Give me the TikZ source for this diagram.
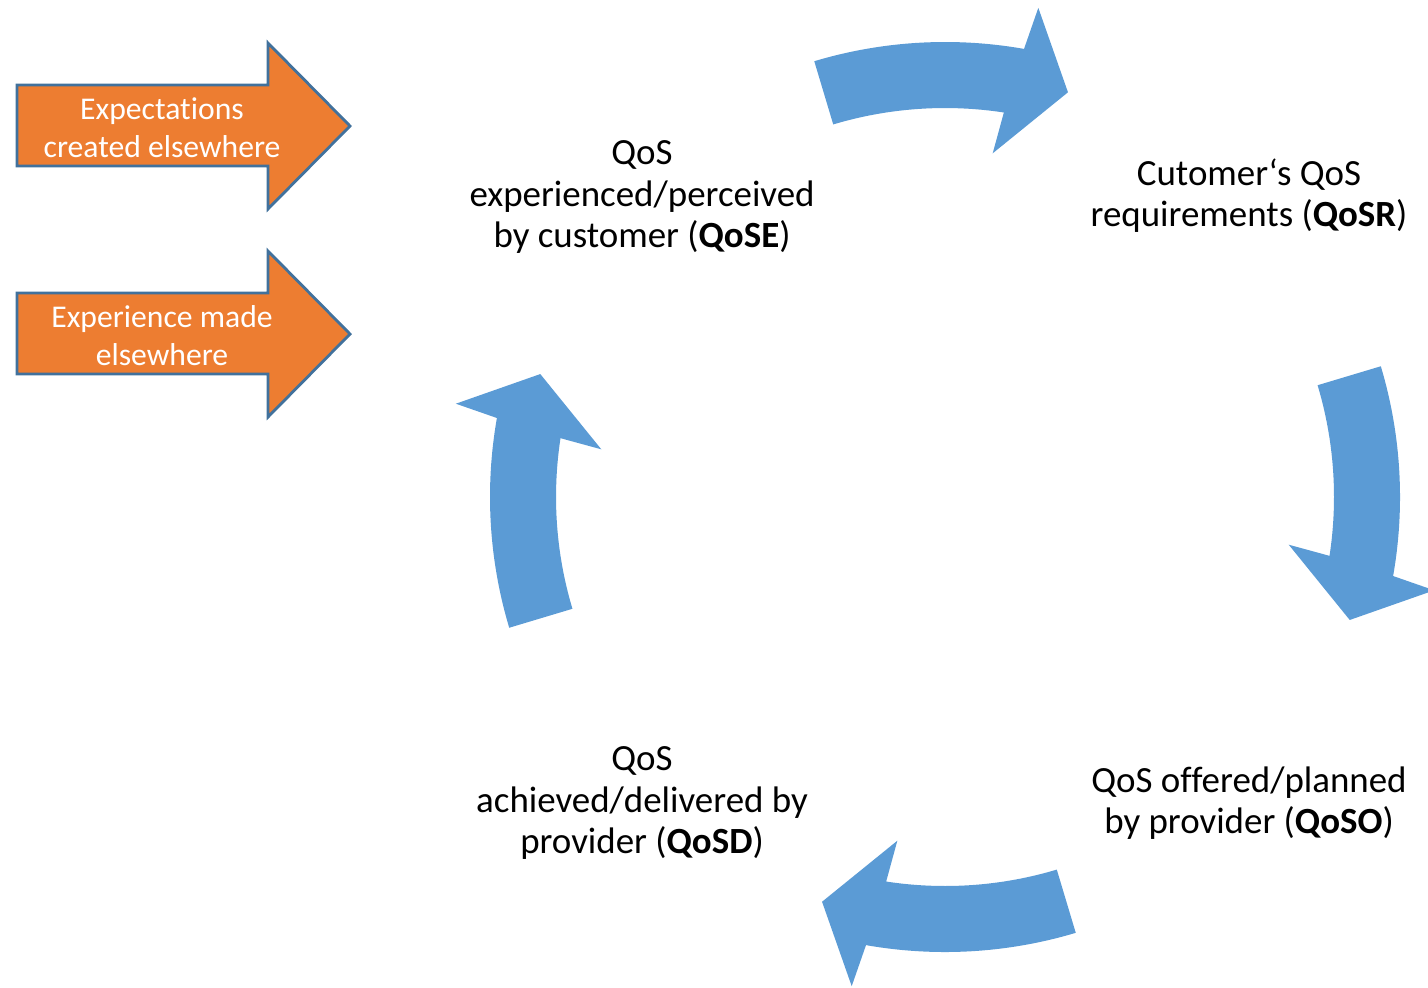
\documentclass[tikz,border=0pt]{standalone}
\usepackage{fontspec}
\setmainfont[Ligatures=NoCommon]{Carlito}
\usepackage{xcolor}
\usepackage{tikz}

\definecolor{cycblue}{HTML}{5B9BD5}
\definecolor{feedorange}{HTML}{ED7D31}
\definecolor{feedline}{HTML}{41719C}

\begin{document}
\begin{tikzpicture}[
    x=0.01cm, y=0.01cm,
    stage/.style={align=center, font=\fontsize{10.5}{11.7}\selectfont, inner sep=0pt},
    feed/.style={draw=feedline, line width=0.8pt, fill=feedorange, line join=miter},
    feedtext/.style={align=center, text=white, font=\fontsize{9}{10.8}\selectfont, inner sep=0pt},
    cyc/.style={fill=cycblue}
]
    \useasboundingbox (0,0) rectangle (1428,-987);

    % four stages of the cycle
    \node[stage] (qose) at (642,-197) {QoS\\experienced/perceived\\by customer (\textbf{QoSE})};
    \node[stage] (qosr) at (1249,-196) {Cutomer‘s QoS\\requirements (\textbf{QoSR})};
    \node[stage] (qoso) at (1249,-803) {QoS offered/planned\\by provider (\textbf{QoSO})};
    \node[stage] (qosd) at (642,-803) {QoS\\achieved/delivered by\\provider (\textbf{QoSD})};

    % curved arrows round the centre of the cycle
    \coordinate (centre) at (945,-497);
    \begin{scope}[shift={(centre)}]
        \foreach \a in {90,0,-90,180}
            \fill[cyc] ({\a+16.7}:455) arc[start angle={\a+16.7}, end angle={\a-10}, radius=455]
                -- ({\a-10.8}:498) -- ({\a-16.9}:423) -- ({\a-7.9}:347) -- ({\a-8.7}:389)
                arc[start angle={\a-8.7}, end angle={\a+16.7}, radius=389] -- cycle;
    \end{scope}

    % outside influences
    \foreach \dy/\nm/\txt in {0/expect/{Expectations\\created elsewhere}, -208/exper/{Experience made\\elsewhere}} {
        \draw[feed] (17,-85+\dy) -- (268,-85+\dy) -- (268,-43+\dy) -- (350,-126+\dy)
            -- (268,-209+\dy) -- (268,-166+\dy) -- (17,-166+\dy) -- cycle;
        \node[feedtext] (\nm) at (162,-128+\dy) {\txt};
    }
\end{tikzpicture}
\end{document}
